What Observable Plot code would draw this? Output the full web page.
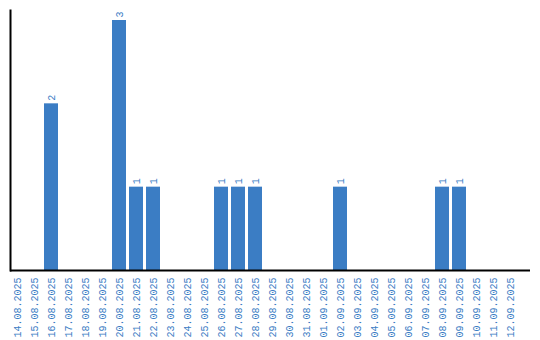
<!DOCTYPE html>
<html>
<head>
<meta charset="utf-8">
<script src="https://cdn.jsdelivr.net/npm/d3@7"></script>
<script src="https://cdn.jsdelivr.net/npm/@observablehq/plot@0.6"></script>
<style>
  html, body { margin: 0; padding: 0; background: #fff; }
</style>
</head>
<body>
<div id="chart"></div>
<script>
const dates = ["14.08.2025","15.08.2025","16.08.2025","17.08.2025","18.08.2025","19.08.2025","20.08.2025","21.08.2025","22.08.2025","23.08.2025","24.08.2025","25.08.2025","26.08.2025","27.08.2025","28.08.2025","29.08.2025","30.08.2025","31.08.2025","01.09.2025","02.09.2025","03.09.2025","04.09.2025","05.09.2025","06.09.2025","07.09.2025","08.09.2025","09.09.2025","10.09.2025","11.09.2025","12.09.2025"];
const counts = [0,0,2,0,0,0,3,1,1,0,0,0,1,1,1,0,0,0,0,1,0,0,0,0,0,1,1,0,0,0];

const data = dates.map((d, i) => ({date: d, count: counts[i]}));
const nonzero = data.filter(d => d.count > 0);
const blue = "#3b7dc4";
const font = "'Liberation Mono', monospace";

const chart = Plot.plot({
  width: 540,
  height: 340,
  marginTop: 10,
  marginLeft: 10,
  marginRight: 10,
  marginBottom: 70,
  style: {fontFamily: font, fontSize: "10px", background: "#fff"},
  x: {domain: dates, range: [10, 517], paddingInner: 3/17, paddingOuter: 0},
  y: {domain: [0, 3], range: [270, 20]},
  marks: [
    Plot.barY(nonzero, {x: "date", y: "count", fill: blue, inset: 0}),
    Plot.text(nonzero, {x: "date", y: "count", text: d => String(d.count), rotate: -90, textAnchor: "start", dy: -3, fill: blue, fontFamily: font, fontSize: 10}),
    Plot.axisX({tickRotate: -90, tickSize: 0, tickPadding: 7, color: blue, fontFamily: font, fontSize: 10, label: null, textAnchor: "end"}),
    Plot.axisY({ticks: [], label: null}),
    Plot.frame({anchor: "left", stroke: "#000", strokeWidth: 2}),
    Plot.ruleY([0], {stroke: "#000", strokeWidth: 2})
  ]
});
document.getElementById("chart").appendChild(chart);
</script>
</body>
</html>
